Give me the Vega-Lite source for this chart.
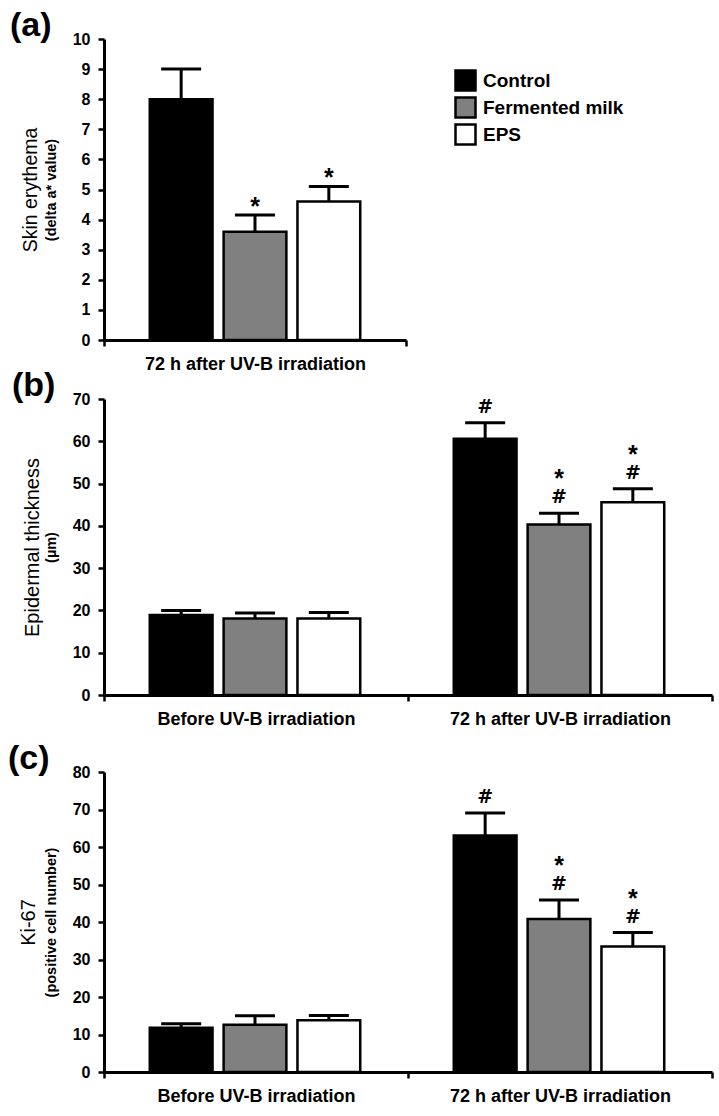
{
  "$schema": "https://vega.github.io/schema/vega-lite/v6.json",
  "background": "white",
  "padding": {"left": 8, "top": 9, "right": 5, "bottom": 5},
  "config": {
    "view": {"stroke": null},
    "axis": {"domainColor": "black", "domainWidth": 3, "tickColor": "black", "tickWidth": 2.5, "tickSize": 6, "labelColor": "black", "grid": false, "labelFontWeight": "bold", "titleColor": "black", "labelOverlap": false, "labelLimit": 0},
    "axisY": {"labelFont": "Liberation Sans", "labelFontSize": 16, "labelPadding": 8, "titleFont": "Liberation Sans", "titleFontWeight": "bold", "titleFontSize": 14.5, "titlePadding": 14},
    "axisX": {"labelFont": "Liberation Sans", "labelFontSize": 18, "labelPadding": 9, "tickBand": "extent", "labelAngle": 0},
    "title": {"font": "Liberation Sans", "fontSize": 34, "fontWeight": "bold", "anchor": "start", "frame": "bounds", "offset": -12, "color": "black", "dx": -10}
  },
  "datasets": {
    "a": [
      {"time": "72 h after UV-B irradiation", "group": "Control", "value": 8.0, "err": 9.0, "sig": ""},
      {"time": "72 h after UV-B irradiation", "group": "Fermented milk", "value": 3.6, "err": 4.15, "sig": "*"},
      {"time": "72 h after UV-B irradiation", "group": "EPS", "value": 4.6, "err": 5.1, "sig": "*"}
    ],
    "b": [
      {"time": "Before UV-B irradiation", "group": "Control", "value": 18.9, "err": 20.0, "sig": ""},
      {"time": "Before UV-B irradiation", "group": "Fermented milk", "value": 18.1, "err": 19.4, "sig": ""},
      {"time": "Before UV-B irradiation", "group": "EPS", "value": 18.1, "err": 19.5, "sig": ""},
      {"time": "72 h after UV-B irradiation", "group": "Control", "value": 60.6, "err": 64.4, "sig": "#"},
      {"time": "72 h after UV-B irradiation", "group": "Fermented milk", "value": 40.3, "err": 43.0, "sig": "*#"},
      {"time": "72 h after UV-B irradiation", "group": "EPS", "value": 45.6, "err": 48.8, "sig": "*#"}
    ],
    "c": [
      {"time": "Before UV-B irradiation", "group": "Control", "value": 11.8, "err": 12.9, "sig": ""},
      {"time": "Before UV-B irradiation", "group": "Fermented milk", "value": 12.6, "err": 15.0, "sig": ""},
      {"time": "Before UV-B irradiation", "group": "EPS", "value": 13.8, "err": 15.1, "sig": ""},
      {"time": "72 h after UV-B irradiation", "group": "Control", "value": 63.1, "err": 69.1, "sig": "#"},
      {"time": "72 h after UV-B irradiation", "group": "Fermented milk", "value": 40.8, "err": 45.9, "sig": "*#"},
      {"time": "72 h after UV-B irradiation", "group": "EPS", "value": 33.5, "err": 37.2, "sig": "*#"}
    ]
  },
  "resolve": {"scale": {"fill": "independent"}, "legend": {"fill": "independent"}},
  "spacing": 14,
  "vconcat": [
    {
      "spacing": -4,
      "resolve": {"scale": {"fill": "independent"}, "legend": {"fill": "independent"}},
      "vconcat": [
        {
          "title": {"text": "(a)"},
          "width": 302,
          "height": 301,
          "data": {"name": "a"},
          "resolve": {"scale": {"y": "independent"}},
          "layer": [
            {
              "encoding": {
                "x": {"field": "time", "type": "nominal", "scale": {"paddingInner": 0, "paddingOuter": 0}, "axis": {"title": null}},
                "xOffset": {"field": "group", "type": "nominal", "sort": ["Control", "Fermented milk", "EPS"], "scale": {"paddingInner": 0.15, "paddingOuter": 0.62}}
              },
              "layer": [
                {
                  "mark": {"type": "bar", "stroke": "black", "strokeWidth": 2.5},
                  "encoding": {
                    "y": {"field": "value", "type": "quantitative", "scale": {"domain": [0, 10], "nice": false}, "axis": {"values": [0,1,2,3,4,5,6,7,8,9,10], "labelOverlap": false, "title": "(delta a* value)"}},
                    "fill": {"field": "group", "type": "nominal", "scale": {"domain": ["Control", "Fermented milk", "EPS"], "range": ["#000000", "#808080", "#ffffff"]},
                      "legend": {"orient": "none", "legendX": 350, "legendY": 30, "title": null, "padding": 0, "symbolType": "square", "symbolSize": 400, "symbolStrokeColor": "black", "symbolStrokeWidth": 2.5, "labelFont": "Liberation Sans", "labelFontSize": 19, "labelFontWeight": "bold", "labelColor": "black", "rowPadding": -10.5, "labelOffset": 6, "symbolOpacity": 1}}
                  }
                },
                {"mark": {"type": "rule", "strokeWidth": 3, "color": "black"}, "encoding": {"y": {"field": "value", "type": "quantitative", "axis": {"values": [0,1,2,3,4,5,6,7,8,9,10], "labelOverlap": false, "title": "(delta a* value)"}}, "y2": {"field": "err"}}},
                {"mark": {"type": "tick", "thickness": 3, "size": 40, "color": "black", "opacity": 1}, "encoding": {"y": {"field": "err", "type": "quantitative", "axis": {"values": [0,1,2,3,4,5,6,7,8,9,10], "labelOverlap": false, "title": "(delta a* value)"}}}},
                {"transform": [{"filter": "indexof(datum.sig, '*') >= 0"}], "mark": {"type": "text", "text": "*", "font": "Liberation Sans", "fontSize": 25, "fontWeight": "bold", "baseline": "alphabetic", "dy": 0, "color": "black"}, "encoding": {"y": {"field": "err", "type": "quantitative", "axis": {"values": [0,1,2,3,4,5,6,7,8,9,10], "labelOverlap": false, "title": "(delta a* value)"}}}}
              ]
            },
            {
              "mark": {"type": "rule", "opacity": 0},
              "encoding": {"y": {"field": "value", "type": "quantitative", "scale": {"domain": [0, 10], "nice": false}, "axis": {"orient": "left", "title": "Skin erythema", "labels": false, "ticks": false, "domain": false, "titleFontWeight": "normal", "titleFontSize": 19.5, "titlePadding": 64}}}
            }
          ]
        },
        {
          "title": {"text": "(b)"},
          "width": 608,
          "height": 296,
          "data": {"name": "b"},
          "resolve": {"scale": {"y": "independent"}},
          "layer": [
            {
              "encoding": {
                "x": {"field": "time", "type": "nominal", "sort": ["Before UV-B irradiation", "72 h after UV-B irradiation"], "scale": {"paddingInner": 0, "paddingOuter": 0}, "axis": {"title": null}},
                "xOffset": {"field": "group", "type": "nominal", "sort": ["Control", "Fermented milk", "EPS"], "scale": {"paddingInner": 0.15, "paddingOuter": 0.62}}
              },
              "layer": [
                {
                  "mark": {"type": "bar", "stroke": "black", "strokeWidth": 2.5},
                  "encoding": {
                    "y": {"field": "value", "type": "quantitative", "scale": {"domain": [0, 70], "nice": false}, "axis": {"values": [0,10,20,30,40,50,60,70], "labelOverlap": false, "title": "(µm)"}},
                    "fill": {"field": "group", "type": "nominal", "scale": {"domain": ["Control", "Fermented milk", "EPS"], "range": ["#000000", "#808080", "#ffffff"]}, "legend": null}
                  }
                },
                {"mark": {"type": "rule", "strokeWidth": 3, "color": "black"}, "encoding": {"y": {"field": "value", "type": "quantitative", "axis": {"values": [0,10,20,30,40,50,60,70], "labelOverlap": false, "title": "(µm)"}}, "y2": {"field": "err"}}},
                {"mark": {"type": "tick", "thickness": 3, "size": 40, "color": "black", "opacity": 1}, "encoding": {"y": {"field": "err", "type": "quantitative", "axis": {"values": [0,10,20,30,40,50,60,70], "labelOverlap": false, "title": "(µm)"}}}},
                {"transform": [{"filter": "indexof(datum.sig, '#') >= 0"}], "mark": {"type": "text", "text": "#", "font": "DejaVu Sans", "fontSize": 19, "fontWeight": "bold", "baseline": "alphabetic", "dy": -10, "color": "black"}, "encoding": {"y": {"field": "err", "type": "quantitative", "axis": {"values": [0,10,20,30,40,50,60,70], "labelOverlap": false, "title": "(µm)"}}}},
                {"transform": [{"filter": "indexof(datum.sig, '*') >= 0"}], "mark": {"type": "text", "text": "*", "font": "Liberation Sans", "fontSize": 25, "fontWeight": "bold", "baseline": "alphabetic", "dy": -26, "color": "black"}, "encoding": {"y": {"field": "err", "type": "quantitative", "axis": {"values": [0,10,20,30,40,50,60,70], "labelOverlap": false, "title": "(µm)"}}}}
              ]
            },
            {
              "mark": {"type": "rule", "opacity": 0},
              "encoding": {"y": {"field": "value", "type": "quantitative", "scale": {"domain": [0, 70], "nice": false}, "axis": {"orient": "left", "title": "Epidermal thickness", "labels": false, "ticks": false, "domain": false, "titleFontWeight": "normal", "titleFontSize": 20, "titlePadding": 62}}}
            }
          ]
        }
      ]
    },
    {
      "title": {"text": "(c)"},
      "width": 608,
      "height": 300,
      "data": {"name": "c"},
      "resolve": {"scale": {"y": "independent"}},
      "layer": [
        {
          "encoding": {
            "x": {"field": "time", "type": "nominal", "sort": ["Before UV-B irradiation", "72 h after UV-B irradiation"], "scale": {"paddingInner": 0, "paddingOuter": 0}, "axis": {"title": null}},
            "xOffset": {"field": "group", "type": "nominal", "sort": ["Control", "Fermented milk", "EPS"], "scale": {"paddingInner": 0.15, "paddingOuter": 0.62}}
          },
          "layer": [
            {
              "mark": {"type": "bar", "stroke": "black", "strokeWidth": 2.5},
              "encoding": {
                "y": {"field": "value", "type": "quantitative", "scale": {"domain": [0, 80], "nice": false}, "axis": {"values": [0,10,20,30,40,50,60,70,80], "labelOverlap": false, "title": "(positive cell number)"}},
                "fill": {"field": "group", "type": "nominal", "scale": {"domain": ["Control", "Fermented milk", "EPS"], "range": ["#000000", "#808080", "#ffffff"]}, "legend": null}
              }
            },
            {"mark": {"type": "rule", "strokeWidth": 3, "color": "black"}, "encoding": {"y": {"field": "value", "type": "quantitative", "axis": {"values": [0,10,20,30,40,50,60,70,80], "labelOverlap": false, "title": "(positive cell number)"}}, "y2": {"field": "err"}}},
            {"mark": {"type": "tick", "thickness": 3, "size": 40, "color": "black", "opacity": 1}, "encoding": {"y": {"field": "err", "type": "quantitative", "axis": {"values": [0,10,20,30,40,50,60,70,80], "labelOverlap": false, "title": "(positive cell number)"}}}},
            {"transform": [{"filter": "indexof(datum.sig, '#') >= 0"}], "mark": {"type": "text", "text": "#", "font": "DejaVu Sans", "fontSize": 19, "fontWeight": "bold", "baseline": "alphabetic", "dy": -10, "color": "black"}, "encoding": {"y": {"field": "err", "type": "quantitative", "axis": {"values": [0,10,20,30,40,50,60,70,80], "labelOverlap": false, "title": "(positive cell number)"}}}},
            {"transform": [{"filter": "indexof(datum.sig, '*') >= 0"}], "mark": {"type": "text", "text": "*", "font": "Liberation Sans", "fontSize": 25, "fontWeight": "bold", "baseline": "alphabetic", "dy": -26, "color": "black"}, "encoding": {"y": {"field": "err", "type": "quantitative", "axis": {"values": [0,10,20,30,40,50,60,70,80], "labelOverlap": false, "title": "(positive cell number)"}}}}
          ]
        },
        {
          "mark": {"type": "rule", "opacity": 0},
          "encoding": {"y": {"field": "value", "type": "quantitative", "scale": {"domain": [0, 80], "nice": false}, "axis": {"orient": "left", "title": "Ki-67", "labels": false, "ticks": false, "domain": false, "titleFontWeight": "normal", "titleFontSize": 20, "titlePadding": 66}}}
        }
      ]
    }
  ]
}
